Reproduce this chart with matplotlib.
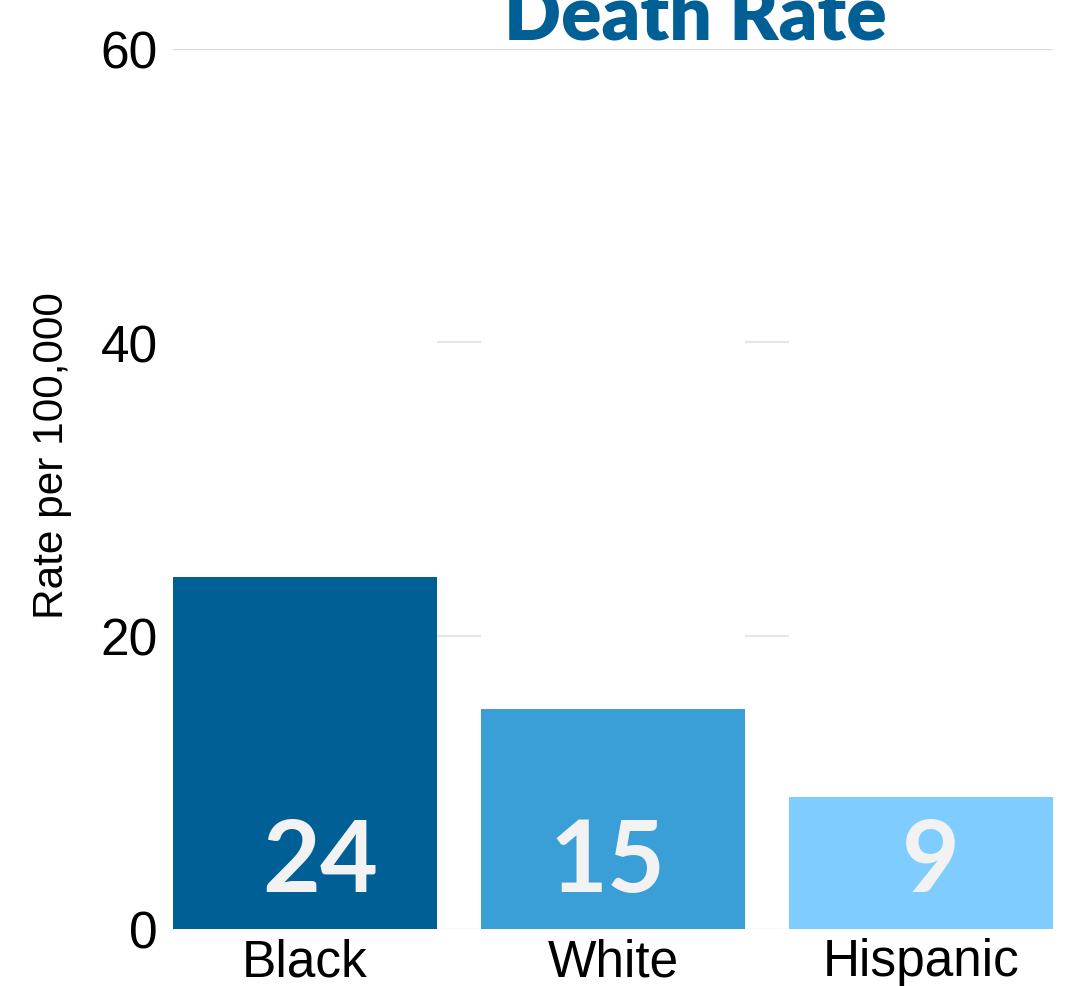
import numpy as np
import matplotlib
matplotlib.use('Agg')
import matplotlib.pyplot as plt
from matplotlib.transforms import offset_copy

# Data
groups = ['Black', 'White', 'Hispanic']
rates = [24, 15, 9]
colors = ['#005f94', '#3b9fd7', '#7fcdff']
yticks = [0, 20, 40, 60]

# label nudges (points), as in the original layout
label_dx = [11, -4, 7]

plt.rcParams['font.family'] = ['Liberation Sans', 'DejaVu Sans']

fig = plt.figure(figsize=(10.75, 9.87), dpi=100)
ax = fig.add_axes([173 / 1075, 1 - 930 / 987, 880 / 1075, 880 / 987])

x = np.arange(len(groups))
width = 264 / 308
bars = ax.bar(x, rates, width=width, color=colors, zorder=2)

ax.set_xlim(x[0] - width / 2, x[-1] + width / 2)
ax.set_ylim(0, 60)

# Gridlines: full at top and bottom, only in the gaps in between
for t in yticks:
    if t in (0, 60):
        ax.axhline(t, color='#dcdcdc', lw=1, zorder=1)
    else:
        for i in range(len(x) - 1):
            ax.hlines(t, x[i] + width / 2, x[i + 1] - width / 2,
                      color='#e6e6e6', lw=1.5, zorder=1)

# Value labels inside bars
for xi, r, dx in zip(x, rates, label_dx):
    tr = offset_copy(ax.transData, fig=fig, x=dx, y=0, units='points')
    ax.text(xi, 2.6, str(r), ha='center', va='baseline', transform=tr,
            fontsize=72, fontweight='bold', family=['Lato', 'DejaVu Sans'],
            color='#f2f2f2', zorder=3)

ax.set_xticks(x)
ax.set_xticklabels(groups, fontsize=37)
ax.set_yticks(yticks)
ax.set_yticklabels([str(t) for t in yticks], fontsize=37)
ax.tick_params(axis='both', length=0)
ax.tick_params(axis='y', pad=11)
ax.tick_params(axis='x', pad=6)
for s in ax.spines.values():
    s.set_visible(False)

fig.text(52 / 1075, 1 - 456 / 987, 'Rate per 100,000', rotation=90,
         ha='center', va='center', fontsize=30.5)

fig.text(695 / 1075, 1 - 40 / 987, 'Death Rate', ha='center', va='baseline',
         fontsize=54, fontweight='heavy', family=['Lato', 'DejaVu Sans'],
         color='#005f94')

fig.savefig('out.png', dpi=100)
